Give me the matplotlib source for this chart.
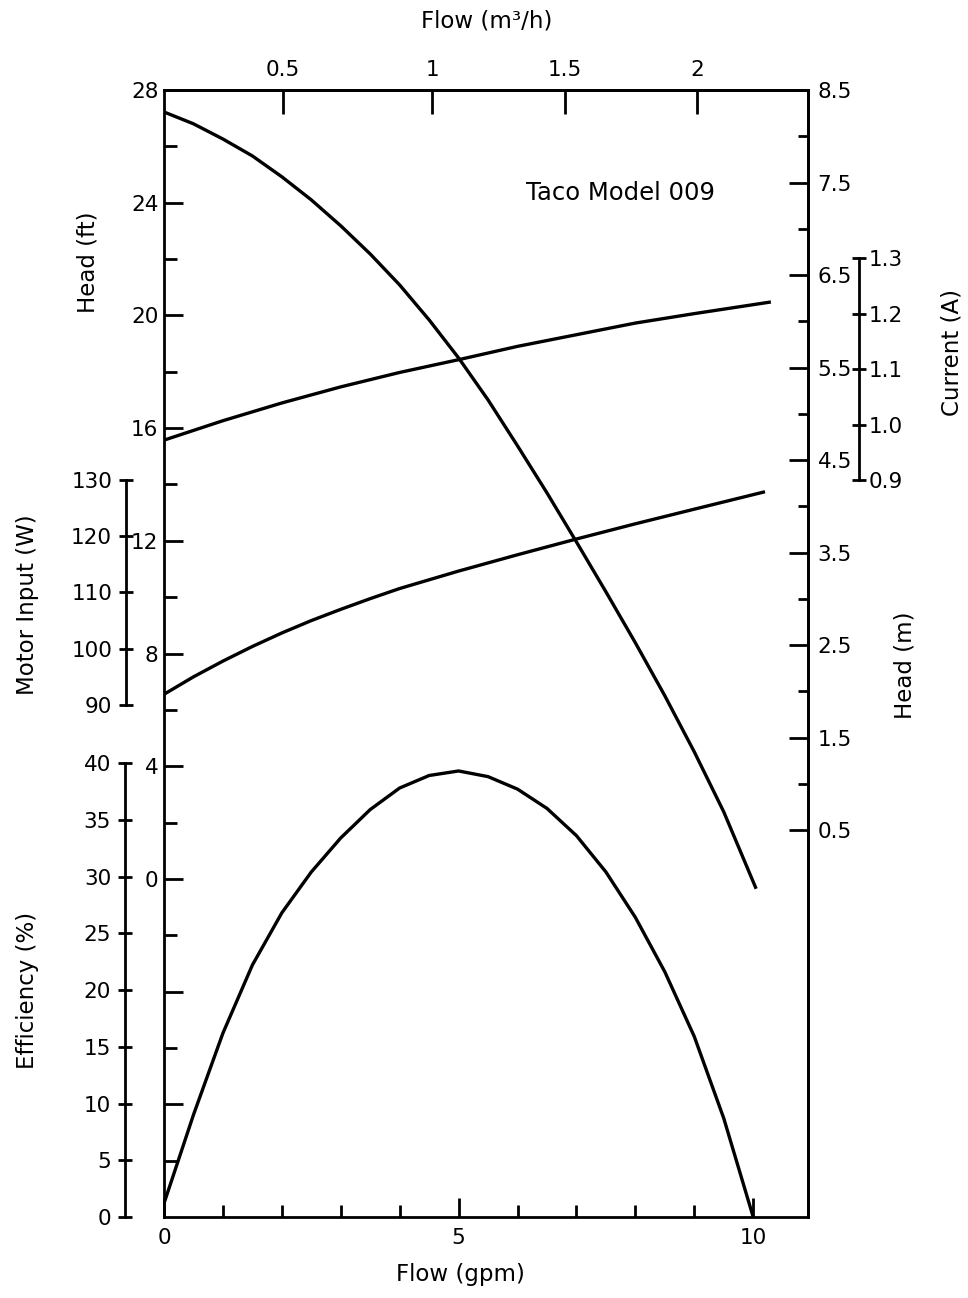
import matplotlib
matplotlib.use("Agg")
import matplotlib.pyplot as plt
from matplotlib.ticker import MultipleLocator

# Pump curves, flow in gpm
head_gpm = [0, 0.5, 1.0, 1.5, 2.0, 2.5, 3.0, 3.5, 4.0, 4.5, 5.0, 5.5, 6.0, 6.5, 7.0,
            7.5, 8.0, 8.5, 9.0, 9.5, 10.05]
head_ft = [27.22, 26.8, 26.26, 25.66, 24.92, 24.1, 23.18, 22.18, 21.08, 19.84, 18.49,
           17.0, 15.37, 13.7, 11.96, 10.19, 8.38, 6.5, 4.51, 2.38, -0.35]

current_gpm = [0, 1, 2, 3, 4, 5, 6, 7, 8, 9, 10.3]
current_a = [0.972, 1.007, 1.039, 1.068, 1.094, 1.117, 1.141, 1.162, 1.183, 1.200, 1.221]

motor_gpm = [0, 0.5, 1.0, 1.5, 2.0, 2.5, 3.0, 3.5, 4.0, 5.0, 6.0, 7.0, 8.0, 9.0, 10.2]
motor_w = [91.9, 95.0, 97.8, 100.4, 102.8, 105.0, 107.0, 108.9, 110.7, 113.8, 116.7,
           119.5, 122.2, 124.8, 127.9]

eff_gpm = [0, 0.5, 1.0, 1.5, 2.0, 2.5, 3.0, 3.5, 4.0, 4.5, 5.0, 5.5, 6.0, 6.5,
           7.0, 7.5, 8.0, 8.5, 9.0, 9.5, 10.0]
eff_pct = [1.2, 9.0, 16.2, 22.2, 26.8, 30.4, 33.4, 35.9, 37.8, 38.9, 39.3, 38.8,
           37.7, 36.0, 33.6, 30.4, 26.4, 21.6, 15.9, 8.7, 0.0]

# top axis: m3/h ticks sit at these gpm positions on the drawing
top_tick_gpm = [2.02, 4.55, 6.8, 9.05]
top_tick_labels = ["0.5", "1", "1.5", "2"]

head_ticks = list(range(-8, 29, 4))
head_minor = list(range(-10, 27, 4))
head_m_ticks = [0.5, 1.5, 2.5, 3.5, 4.5, 5.5, 6.5, 7.5, 8.5]
head_m_minor = [1, 2, 3, 4, 5, 6, 7, 8]
motor_ticks = [90, 100, 110, 120, 130]
eff_ticks = [0, 5, 10, 15, 20, 25, 30, 35, 40]
current_ticks = [0.9, 1.0, 1.1, 1.2, 1.3]

W, H = 968, 1298
L, R, T, B = 164, 808, 90, 1217
AW, AH = R - L, B - T

TICK_FS = 15.5
LABEL_FS = 16.5
LW = 2.4
SW = 2.0

fig = plt.figure(figsize=(W / 100, H / 100), dpi=100)
ax = fig.add_axes([L / W, 1 - B / H, AW / W, AH / H])
ax.set_xlim(0, 10.93)
ax.set_ylim(-12, 28)
for s in ax.spines.values():
    s.set_linewidth(SW)

# bottom flow axis
ax.set_xticks([0, 5, 10])
ax.xaxis.set_minor_locator(MultipleLocator(1))
ax.tick_params(axis="x", which="major", direction="in", length=14, width=SW,
               labelsize=TICK_FS, pad=8, top=False)
ax.tick_params(axis="x", which="minor", direction="in", length=9, width=SW, top=False)

# head (ft) on the left spine
ax.set_yticks(head_ticks, labels=[str(t) if t >= 0 else "" for t in head_ticks])
ax.set_yticks(head_minor, minor=True)
ax.tick_params(axis="y", which="major", direction="in", length=14, width=SW,
               labelsize=TICK_FS, pad=4, right=False)
ax.tick_params(axis="y", which="minor", direction="in", length=9, width=SW, right=False)

# top m3/h axis
top = ax.secondary_xaxis("top")
top.set_xticks(top_tick_gpm, labels=top_tick_labels)
top.tick_params(direction="in", length=17, width=SW, labelsize=TICK_FS, pad=7)
top.spines["top"].set_linewidth(SW)


def twin(side, pos, lim, bounds=None):
    t = ax.twinx()
    t.set_ylim(*lim)
    for s in t.spines.values():
        s.set_visible(False)
    sp = t.spines[side]
    sp.set_visible(True)
    sp.set_linewidth(SW)
    sp.set_position(("axes", pos))
    if bounds is not None:
        sp.set_bounds(*bounds)
    if side == "left":
        t.yaxis.tick_left()
    else:
        t.yaxis.tick_right()
    return t


# head (m) on the right spine
axm = twin("right", 1.0, (-3.68, 8.5))
axm.set_yticks(head_m_ticks, labels=[f"{v:.1f}" for v in head_m_ticks])
axm.set_yticks(head_m_minor, minor=True)
axm.tick_params(axis="y", which="major", direction="in", length=14, width=SW,
                labelsize=TICK_FS, pad=7)
axm.tick_params(axis="y", which="minor", direction="in", length=7, width=SW)

# motor input (W)
axw = twin("left", -38 / AW, (-1.0, 199.3), (90, 130))
axw.set_yticks(motor_ticks)
axw.tick_params(axis="y", direction="inout", length=10, width=SW, labelsize=TICK_FS, pad=5)

# efficiency (%)
axe = twin("left", -39 / AW, (0, 99.3), (0, 40))
axe.set_yticks(eff_ticks)
axe.tick_params(axis="y", direction="inout", length=10, width=SW, labelsize=TICK_FS, pad=5)

# current (A)
axc = twin("right", 1 + 51 / AW, (-0.428, 1.603), (0.9, 1.3))
axc.set_yticks(current_ticks, labels=[f"{v:.1f}" for v in current_ticks])
axc.tick_params(axis="y", direction="inout", length=10, width=SW, labelsize=TICK_FS, pad=2)

# curves
ax.plot(head_gpm, head_ft, color="black", lw=LW, solid_capstyle="butt")
axc.plot(current_gpm, current_a, color="black", lw=LW, solid_capstyle="butt")
axw.plot(motor_gpm, motor_w, color="black", lw=LW, solid_capstyle="butt")
axe.plot(eff_gpm, eff_pct, color="black", lw=LW, solid_capstyle="butt")


def label(x, y, text, rot=0, size=LABEL_FS):
    fig.text(x / W, 1 - y / H, text, rotation=rot, ha="center", va="center",
             fontsize=size)


label(88, 262, "Head (ft)", 90)
label(28, 605, "Motor Input (W)", 90)
label(28, 990, "Efficiency (%)", 90)
label(952, 353, "Current (A)", 90)
label(905, 665, "Head (m)", 90)
label(460, 1274, "Flow (gpm)")
label(487, 21, "Flow (m³/h)")
label(621, 193, "Taco Model 009", size=17.5)

fig.savefig("out.png", dpi=100)
